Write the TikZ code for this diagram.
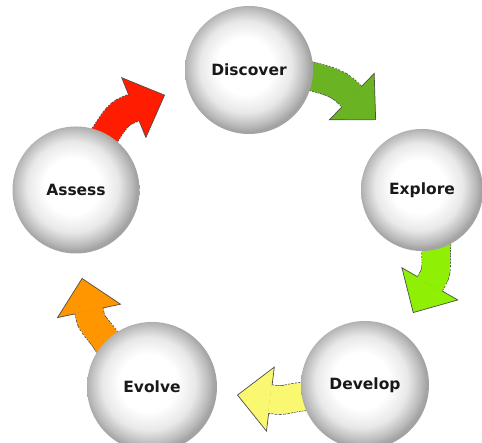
\documentclass[tikz,border=0pt]{standalone}
\usepackage{fontspec}
\usepackage{tikz}
\usetikzlibrary{arrows.meta,backgrounds,calc}

\newfontfamily\ballfont{DejaVu Sans}

\definecolor{discgreen}{RGB}{106,180,36}
\definecolor{explgreen}{RGB}{143,240,5}
\definecolor{devlyellow}{RGB}{250,248,112}
\definecolor{evolorange}{RGB}{255,150,0}
\definecolor{assered}{RGB}{255,28,0}

\pgfdeclareradialshading{ballshade}{\pgfpoint{-2bp}{2bp}}{color(0bp)=(white); color(11bp)=(white); color(18bp)=(black!9); color(23bp)=(black!27); color(25bp)=(black!36); color(50bp)=(black!36)}

\begin{document}
\begin{tikzpicture}[x=1pt,y=1pt,
    ball/.style={circle,minimum size=128pt,inner sep=0pt,shading=ballshade,
      font=\ballfont\bfseries\fontsize{15.5}{18}\selectfont,text=black!90},
    flow/.style={line width=28pt,draw=#1,shorten <=-12pt,shorten >=33pt,
      preaction={draw=black!70,line width=29.4pt,dash pattern=on 2pt off 1pt,shorten >=0pt,
        -{Triangle[length=34pt,width=66pt,fill=#1,line width=0.7pt]}}}]
  \useasboundingbox (0,0) rectangle (482,443);

  \node[ball] (disc) at (249,373) {Discover};
  \node[ball,minimum size=122pt] (expl) at (422,253) {Explore};
  \node[ball] (devl) at (365,58) {Develop};
  \node[ball,minimum size=130pt] (evol) at (152,56) {Evolve};
  \node[ball,minimum size=127pt] (asse) at (76,253) {Assess};

  % free ends of the arrows
  \coordinate (to_expl) at (376,323);
  \coordinate (to_devl) at (413,130);
  \coordinate (to_evol) at (237,48);
  \coordinate (to_asse) at (82,165);
  \coordinate (to_disc) at (165,348);

  \begin{scope}[on background layer]
    \draw[flow=discgreen] (disc.-6) to[out=-15,in=136] ($(to_expl)+(136:40)$) -- (to_expl);
    \draw[flow=explgreen] (expl.-77) to[out=-95,in=60] ($(to_devl)+(60:40)$) -- (to_devl);
    \draw[flow=devlyellow] (devl.190) to[out=180,in=-7] ($(to_evol)+(-7:40)$) -- (to_evol);
    \draw[flow=evolorange] (evol.134) to[out=115,in=-78] ($(to_asse)+(-78:40)$) -- (to_asse);
    \draw[flow=assered] (asse.62) to[out=55,in=-158] ($(to_disc)+(-158:40)$) -- (to_disc);
  \end{scope}
\end{tikzpicture}
\end{document}
